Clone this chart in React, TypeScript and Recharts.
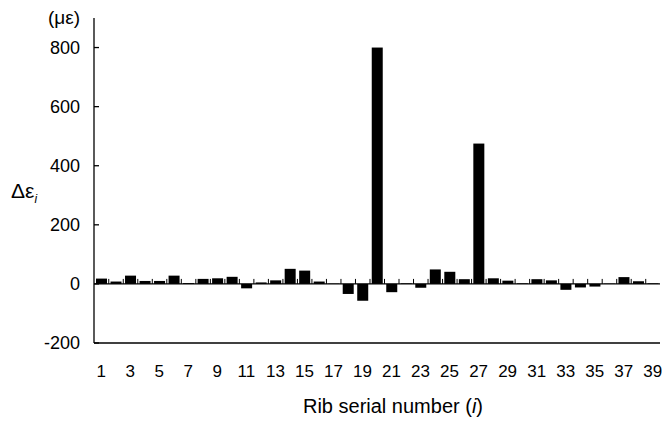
import { ComposedChart, Bar, XAxis, YAxis, ReferenceLine, Customized } from 'recharts';

const ribs = [
  1, 2, 3, 4, 5, 6, 7, 8, 9, 10, 11, 12, 13, 14, 15, 16, 17, 18, 19, 20,
  21, 22, 23, 24, 25, 26, 27, 28, 29, 30, 31, 32, 33, 34, 35, 36, 37, 38, 39,
];

// Δε_i in με
const strainChange = [
  18, 8, 28, 10, 10, 28, 3, 17, 19, 24, -15, 5, 12, 51, 45, 8, 1, -34, -57, 800,
  -28, 2, -13, 49, 41, 16, 475, 19, 11, 2, 16, 12, -20, -12, -9, 1, 23, 9, 2,
];

const xTicks = [1, 3, 5, 7, 9, 11, 13, 15, 17, 19, 21, 23, 25, 27, 29, 31, 33, 35, 37, 39];
const yTicks = [-200, 0, 200, 400, 600, 800];

const CHART_W = 662;
const Y_AXIS_W = 94;
const RIGHT = 2;
// half of one rib's slot, so the zero-line tick sits between neighbouring ribs
const HALF_BAND = (CHART_W - Y_AXIS_W - RIGHT) / ribs.length / 2;

const data = ribs.map((rib, i) => ({ rib, value: strainChange[i] }));

const FONT = "'Liberation Sans', Arial, sans-serif";
const NARROW = "'Liberation Sans Narrow', 'Liberation Sans', Arial, sans-serif";
const AXIS = { stroke: '#000', strokeWidth: 1.3 };

// bar plus the small upward tick on the zero line at the slot's right edge
function RibBar(props: any) {
  const { x, y, width, height, payload } = props;
  const top = Math.min(y, y + height);
  const h = Math.abs(height);
  const zeroY = payload.value >= 0 ? top + h : top;
  const tx = x + width / 2 + HALF_BAND;
  return (
    <g>
      <rect x={x} y={top} width={width} height={h} fill="#000" />
      {payload.rib < ribs[ribs.length - 1] && (
        <line x1={tx} x2={tx} y1={zeroY} y2={zeroY - 5} stroke="#000" strokeWidth={1} />
      )}
    </g>
  );
}

function Labels() {
  return (
    <g fontFamily={FONT} fill="#000">
      <text x={80} y={24} fontSize={19} textAnchor="end">(με)</text>
      <text x={11} y={198} fontSize={21}>
        Δε
        <tspan fontSize={12} fontStyle="italic" dy={5}>i</tspan>
      </text>
      <text x={393} y={413} fontSize={20} textAnchor="middle">
        Rib serial number (<tspan fontStyle="italic">i</tspan>)
      </text>
    </g>
  );
}

export default function App() {
  return (
    <div style={{ position: 'absolute', left: 0, top: 0, background: '#fff' }}>
      <ComposedChart
        width={CHART_W}
        height={424}
        data={data}
        margin={{ top: 18, right: RIGHT, bottom: 0, left: 0 }}
      >
        <XAxis
          xAxisId="x"
          dataKey="rib"
          type="number"
          domain={[0.5, 39.5]}
          ticks={xTicks}
          interval={0}
          height={81}
          tickLine={false}
          tickSize={6}
          tickMargin={16}
          axisLine={AXIS}
          tick={{ fill: '#000', fontSize: 17, fontFamily: NARROW }}
        />
        <XAxis
          xAxisId="top"
          dataKey="rib"
          type="number"
          domain={[0.5, 39.5]}
          orientation="top"
          height={0}
          tick={false}
          tickLine={false}
          axisLine={AXIS}
        />
        <YAxis
          yAxisId="left"
          width={Y_AXIS_W}
          domain={[-200, 900]}
          ticks={yTicks}
          interval={0}
          tickSize={-5}
          tickMargin={19}
          axisLine={AXIS}
          tickLine={AXIS}
          tick={{ fill: '#000', fontSize: 18, fontFamily: FONT }}
        />
        <YAxis
          yAxisId="right"
          orientation="right"
          width={0}
          domain={[-200, 900]}
          tick={false}
          tickLine={false}
          axisLine={AXIS}
        />
        <ReferenceLine xAxisId="x" yAxisId="left" y={0} stroke="#000" strokeWidth={1.3} />
        <Bar
          xAxisId="x"
          yAxisId="left"
          dataKey="value"
          fill="#000"
          barSize={11}
          shape={<RibBar />}
          isAnimationActive={false}
        />
        <Customized component={Labels} />
      </ComposedChart>
    </div>
  );
}
